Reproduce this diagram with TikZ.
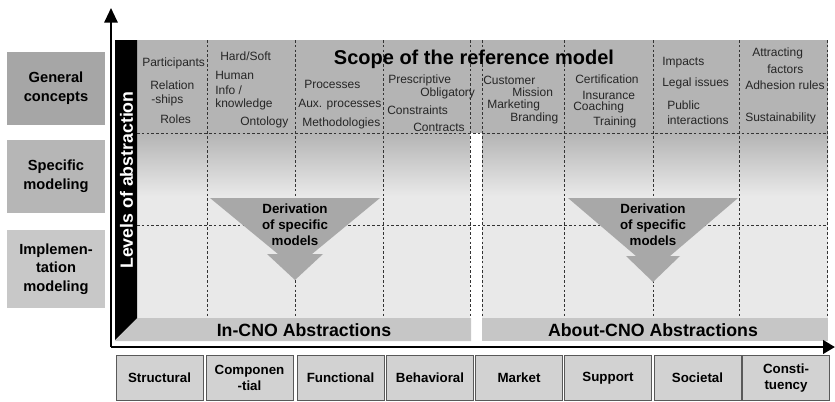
\documentclass[tikz,border=0pt]{standalone}
\usepackage{fontspec}
\setmainfont{Liberation Sans}
\usetikzlibrary{arrows.meta}

\definecolor{generalgray}{HTML}{A6A6A6}
\definecolor{specificgray}{HTML}{B6B6B6}
\definecolor{implgray}{HTML}{C8C8C8}
\definecolor{scopegray}{HTML}{B4B4B4}
\definecolor{lowgray}{HTML}{E9E9E9}
\definecolor{bandgray}{HTML}{C6C6C6}
\definecolor{trigray}{HTML}{A8A8A8}
\definecolor{viewgray}{HTML}{D2D2D2}

\begin{document}
\begin{tikzpicture}[x=0.75pt,y=-0.75pt,
  levelbox/.style={inner sep=0,align=center,minimum width=73.5pt,minimum height=54.75pt,
    font=\bfseries\fontsize{11}{14}\selectfont},
  concept/.style={anchor=west,inner sep=0,text=black!85,font=\fontsize{9}{10}\selectfont},
  gridline/.style={black!80,line width=0.75pt,dash pattern=on 2pt off 1.6pt},
  viewbox/.style={draw=black!65,fill=viewgray,inner sep=0,align=center,
    minimum width=65pt,minimum height=33.75pt,font=\bfseries\fontsize{10}{12}\selectfont},
  derivtext/.style={inner sep=0,align=center,font=\bfseries\fontsize{10}{12}\selectfont},
  abstr/.style={inner sep=0,font=\bfseries\fontsize{13.3}{15}\selectfont}]

  \useasboundingbox (0,0) rectangle (835,401);

  % levels on the left
  \node[levelbox,fill=generalgray] (general) at (56,88.5) {General\\concepts};
  \node[levelbox,fill=specificgray] (specific) at (56,176.5) {Specific\\modeling};
  \node[levelbox,fill=implgray,minimum height=58.5pt] (implementation) at (56,269) {Implemen-\\tation\\modeling};

  % scope area
  \fill[scopegray] (137,40) rectangle (828,133);
  \shade[top color=scopegray,middle color=white,bottom color=lowgray] (137,133) rectangle (470,196);
  \shade[top color=scopegray,middle color=white,bottom color=lowgray] (482,133) rectangle (828,196);
  \fill[lowgray] (137,196) rectangle (470,318);
  \fill[lowgray] (482,196) rectangle (828,318);

  \draw[gridline] (137,133) -- (828,133);
  \draw[gridline] (137,225) -- (828,225);
  \draw[gridline] (207,40) -- (207,318);
  \draw[gridline] (295,40) -- (295,318);
  \draw[gridline] (383,40) -- (383,318);
  \draw[gridline] (470,40) -- (470,318);
  \draw[gridline] (482,40) -- (482,318);
  \draw[gridline] (564,40) -- (564,318);
  \draw[gridline] (653,40) -- (653,318);
  \draw[gridline] (739,40) -- (739,318);
  \draw[gridline] (827,40) -- (827,318);

  \node[inner sep=0,font=\bfseries\fontsize{15}{18}\selectfont] (scope) at (474,59) {Scope of the reference model};

  \node[concept] (participants) at (142,63) {Participants};
  \node[concept] (relation) at (150,85) {Relation};
  \node[concept] (ships) at (151,100) {-ships};
  \node[concept] (roles) at (160,119) {Roles};

  \node[concept] (hardsoft) at (220,56) {Hard/Soft};
  \node[concept] (human) at (215,75) {Human};
  \node[concept] (info) at (215,90) {Info /};
  \node[concept] (knowledge) at (215,104) {knowledge};
  \node[concept] (ontology) at (240,122) {Ontology};

  \node[concept] (processes) at (304,84) {Processes};
  \node[concept] (auxproc) at (298,105) {Aux. processes};
  \node[concept] (methods) at (302,123) {Methodologies};

  \node[concept] (prescriptive) at (388,80) {Prescriptive};
  \node[concept] (obligatory) at (420,93) {Obligatory};
  \node[concept] (constraints) at (387,110) {Constraints};
  \node[concept] (contracts) at (413,127) {Contracts};

  \node[concept] (customer) at (483,80) {Customer};
  \node[concept] (mission) at (512,92) {Mission};
  \node[concept] (marketing) at (487,105) {Marketing};
  \node[concept] (branding) at (510,118) {Branding};

  \node[concept] (certification) at (575,79) {Certification};
  \node[concept] (insurance) at (582,95) {Insurance};
  \node[concept] (coaching) at (573,107) {Coaching};
  \node[concept] (training) at (593,122) {Training};

  \node[concept] (impacts) at (662,63) {Impacts};
  \node[concept] (legal) at (662,83) {Legal issues};
  \node[concept] (public) at (667,105) {Public};
  \node[concept] (interactions) at (667,120) {interactions};

  \node[concept] (attracting) at (752,53) {Attracting};
  \node[concept] (factors) at (767,69) {factors};
  \node[concept] (adhesion) at (745,85) {Adhesion rules};
  \node[concept] (sustain) at (745,118) {Sustainability};

  % derivation arrows
  \fill[trigray] (210,198) -- (380,198) -- (312,254) -- (323,254) -- (295,280)
    -- (267,254) -- (278,254) -- cycle;
  \node[derivtext] (derivin) at (295,225) {Derivation\\of specific\\models};

  \fill[trigray] (568,198) -- (738,198) -- (670,256) -- (680,256) -- (653,282)
    -- (626,256) -- (636,256) -- cycle;
  \node[derivtext] (derivabout) at (653,225) {Derivation\\of specific\\models};

  % bottom bands and level bar
  \fill[bandgray] (137,318) -- (471,318) -- (471,341) -- (115,341) -- cycle;
  \node[abstr] (incno) at (304,330) {In-CNO Abstractions};
  \fill[bandgray] (482,318) rectangle (828,341);
  \node[abstr] (aboutcno) at (653,330) {About-CNO Abstractions};

  \fill[black] (115,40) -- (137,40) -- (137,318) -- (115,340) -- cycle;
  \node[rotate=90,inner sep=0,text=white,font=\bfseries\fontsize{13.3}{15}\selectfont] (levels) at (126.5,180) {Levels of abstraction};

  % axes
  \coordinate (origin) at (111,347);
  \coordinate (ytip) at (111,8);
  \coordinate (xtip) at (835,347);
  \draw[line width=1.5pt,-{Triangle[length=11pt,width=10pt]}] (origin) -- (ytip);
  \draw[line width=2.2pt,-{Triangle[length=9pt,width=10pt]}] (origin) -- (xtip);

  % views
  \node[viewbox] (structural) at (159.5,378) {Structural};
  \node[viewbox] (componential) at (249.5,378) {Componen\\-tial};
  \node[viewbox] (functional) at (340.5,378) {Functional};
  \node[viewbox] (behavioral) at (430,378) {Behavioral};
  \node[viewbox] (market) at (519,378) {Market};
  \node[viewbox] (support) at (608,378) {Support};
  \node[viewbox] (societal) at (697.5,378) {Societal};
  \node[viewbox] (constituency) at (786,378) {Consti-\\tuency};

\end{tikzpicture}
\end{document}
